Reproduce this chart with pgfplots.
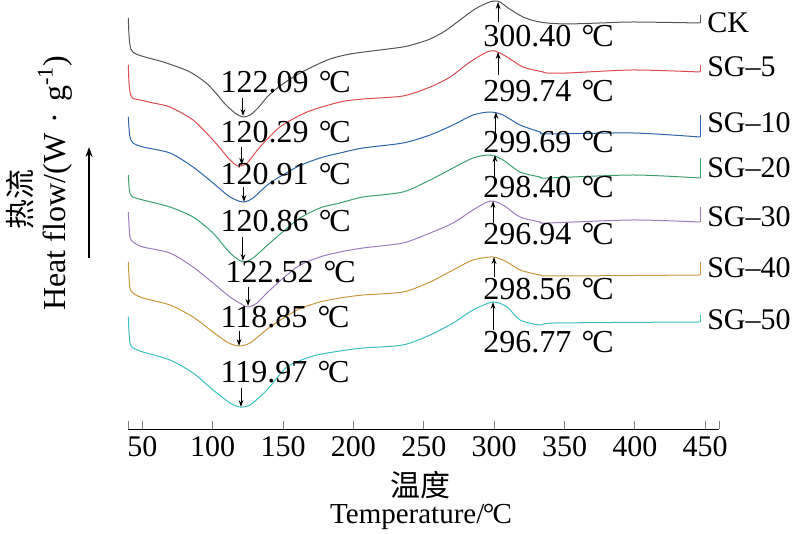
\documentclass[border=0pt]{standalone}
\usepackage{fontspec}
\setmainfont{Liberation Serif}
\newfontfamily\cjk{Noto Sans CJK SC}
\usepackage{pgfplots}
\pgfplotsset{compat=1.18}
\usetikzlibrary{arrows.meta}
\definecolor{cCK}{RGB}{85,85,85}
\definecolor{cA}{RGB}{220,75,80}
\definecolor{cB}{RGB}{45,100,170}
\definecolor{cC}{RGB}{60,160,110}
\definecolor{cD}{RGB}{155,125,190}
\definecolor{cE}{RGB}{200,150,60}
\definecolor{cF}{RGB}{60,190,190}
\newcommand{\dc}{\hspace{0.32em}\textdegree\kern-0.07em C}
\begin{document}
\begin{tikzpicture}[font=\fontsize{15pt}{18pt}\selectfont]
\useasboundingbox (0,0) rectangle (397pt,267pt);
\begin{axis}[
  at={(64.15pt,52.35pt)}, anchor=south west,
  scale only axis, width=295.5pt, height=214.65pt,
  xmin=40, xmax=460, ymin=-429.3, ymax=0,
  axis x line=bottom, axis y line=none,
  axis line style={-, line width=0.75pt, black},
  xtick={50,100,...,450},
  extra x ticks={40,460}, extra x tick labels={},
  tick align=inside, major tick length=4.35pt,
  tick style={gray, line width=0.5pt},
  extra x tick style={tick style={gray, line width=0.5pt}},
  /pgf/number format/assume math mode=true,
  ticklabel style={font=\fontsize{15pt}{18pt}\selectfont},
  clip=false,
  every axis plot/.append style={mark=none, line width=0.5pt, smooth, tension=0.45},
]
% CK
\addplot[cCK] coordinates {
(40.0,-18) (40.4,-33) (41.0,-43) (41.8,-49) (43.3,-52) (45.5,-54) (51.8,-57) (62.5,-61) (73.2,-66) (83.9,-72) (94.5,-82) (101.6,-92) (108.7,-104) (115.8,-113) (121.5,-117) (126.5,-115) (132.2,-108) (139.3,-96) (147.8,-86) (158.5,-76) (169.1,-68) (183.4,-59) (197.6,-54) (218.9,-50) (235.2,-47) (243.8,-44) (254.5,-39) (265.1,-31) (275.7,-20) (286.4,-9) (294.9,-3) (299.9,-1) (304.2,-2) (309.9,-8) (320.5,-17) (329.1,-21) (337.6,-23) (351.8,-24) (375.2,-23) (398.7,-22) (446.3,-23)};
\addplot[cCK, sharp plot] coordinates {(446.3,-23) (446.3,-15)};
% SG-5
\addplot[cA] coordinates {
(40.0,-65) (40.4,-80) (41.0,-90) (41.8,-95.5) (43.3,-98.5) (48.3,-100) (57.6,-103) (69.6,-107) (86.0,-120) (100.2,-140) (112.3,-160) (118.0,-166) (124.4,-163) (133.6,-147) (147.8,-127) (167.0,-112) (190.5,-102) (206.8,-99) (235.2,-96) (254.5,-87) (268.7,-77) (282.8,-62) (294.9,-52) (300.6,-51) (309.2,-57) (320.5,-67) (334.8,-72) (337.6,-73) (351.8,-73) (398.7,-70) (446.3,-72)};
\addplot[cA, sharp plot] coordinates {(446.3,-72) (446.3,-65)};
% SG-10
\addplot[cB] coordinates {
(40.0,-117) (40.5,-128) (41.2,-137) (43.3,-143) (50.4,-147) (69.6,-153) (86.0,-167) (100.2,-183) (112.3,-197) (121.5,-202) (128.6,-198) (140.7,-183) (159.9,-167) (176.2,-158) (190.5,-153) (206.8,-148) (235.2,-143) (254.5,-135) (270.8,-125) (285.0,-115) (297.1,-112) (306.3,-115) (318.4,-125) (332.6,-132) (337.6,-134) (398.7,-133) (446.3,-137)};
\addplot[cB, sharp plot] coordinates {(446.3,-137) (446.3,-115)};
% SG-20
\addplot[cC] coordinates {
(40.0,-175) (40.5,-186) (41.2,-193) (43.3,-197) (50.4,-200) (69.6,-207) (86.0,-217) (100.2,-233) (112.3,-253) (121.5,-262) (128.6,-258) (140.7,-243) (159.9,-220) (176.2,-208) (190.5,-203) (206.8,-197) (235.2,-192) (254.5,-180) (270.8,-168) (285.0,-158) (297.1,-155) (306.3,-160) (318.4,-172) (332.6,-177) (337.6,-178) (398.7,-175) (446.3,-178)};
\addplot[cC, sharp plot] coordinates {(446.3,-178) (446.3,-158)};
% SG-30
\addplot[cD] coordinates {
(40.0,-212) (40.5,-225) (41.2,-237) (43.3,-242) (50.4,-247) (69.6,-253) (86.0,-267) (100.2,-283) (112.3,-297) (121.5,-305) (125.1,-307) (131.5,-303) (140.7,-290) (159.9,-267) (176.2,-257) (190.5,-252) (206.8,-248) (235.2,-243) (254.5,-233) (270.8,-223) (285.0,-210) (297.1,-201) (306.3,-205) (318.4,-217) (332.6,-222) (337.6,-223) (398.7,-220) (446.3,-222)};
\addplot[cD, sharp plot] coordinates {(446.3,-222) (446.3,-207)};
% SG-40
\addplot[cE] coordinates {
(40.0,-262) (40.5,-277) (41.2,-288) (43.3,-293) (50.4,-298) (69.6,-305) (86.0,-317) (100.2,-332) (110.1,-342) (118.0,-346) (126.5,-343) (140.7,-327) (159.9,-310) (176.2,-302) (190.5,-298) (206.8,-295) (235.2,-292) (254.5,-282) (270.8,-270) (285.0,-260) (299.2,-257) (309.2,-262) (318.4,-270) (332.6,-275) (344.7,-276) (446.3,-275)};
\addplot[cE, sharp plot] coordinates {(446.3,-275) (446.3,-262)};
% SG-50
\addplot[cF] coordinates {
(40.0,-317) (40.5,-332) (41.2,-343) (43.3,-348) (50.4,-352) (69.6,-360) (86.0,-373) (100.2,-390) (112.3,-403) (119.4,-407) (126.5,-405) (138.6,-390) (152.8,-367) (171.3,-356) (190.5,-351) (206.8,-348) (235.2,-345) (254.5,-335) (270.8,-323) (285.0,-310) (299.2,-302) (309.2,-307) (318.4,-320) (332.6,-325) (344.7,-323) (446.3,-322)};
\addplot[cF, sharp plot] coordinates {(446.3,-322) (446.3,-315)};
% arrows
\tikzset{ar/.style={-{Stealth[length=3.5pt,width=2.4pt]}, line width=0.5pt, black}}
\draw[ar] (121.5,-98) -- (121.5,-116);
\draw[ar] (120.6,-147) -- (120.6,-165);
\draw[ar] (122.2,-187) -- (122.2,-202);
\draw[ar] (121.5,-237) -- (121.5,-261);
\draw[ar] (125.1,-287) -- (125.1,-306);
\draw[ar] (118.7,-331) -- (118.7,-346);
\draw[ar] (120.1,-388) -- (120.1,-407);
\draw[ar] (302.8,-22) -- (302.8,-2);
\draw[ar] (302.8,-75) -- (302.8,-52);
\draw[ar] (301.3,-135) -- (301.3,-112);
\draw[ar] (300.6,-177) -- (300.6,-155);
\draw[ar] (299.2,-223) -- (299.2,-201);
\draw[ar] (299.9,-277) -- (299.9,-257);
\draw[ar] (299.2,-330) -- (299.2,-302);
% low labels
\tikzset{lb/.style={anchor=base west, inner sep=0pt}, vl/.style={lb, font=\fontsize{16pt}{18pt}\selectfont}}
\node[vl] at (105.3,-93) {122.09\dc};
\node[vl] at (105.3,-143) {120.29\dc};
\node[vl] at (105.3,-185) {120.91\dc};
\node[vl] at (105.3,-232) {120.86\dc};
\node[vl] at (108.8,-283) {122.52\dc};
\node[vl] at (105.3,-328) {118.85\dc};
\node[vl] at (105.3,-383) {119.97\dc};
% high labels
\node[vl] at (292.1,-47) {300.40\dc};
\node[vl] at (292.1,-102) {299.74\dc};
\node[vl] at (292.1,-153) {299.69\dc};
\node[vl] at (292.1,-198) {298.40\dc};
\node[vl] at (292.1,-245) {296.94\dc};
\node[vl] at (292.1,-300) {298.56\dc};
\node[vl] at (292.1,-353) {296.77\dc};
% series names
\node[lb] at (451.2,-33) {CK};
\node[lb] at (451.2,-77) {SG--5};
\node[lb] at (451.2,-133) {SG--10};
\node[lb] at (451.2,-178) {SG--20};
\node[lb] at (451.2,-227) {SG--30};
\node[lb] at (451.2,-278) {SG--40};
\node[lb] at (451.2,-330) {SG--50};
% axis titles
\node[rotate=90] at (-37.0,-200) {\cjk 热流};
\node[rotate=90, font=\fontsize{16pt}{18pt}\selectfont] at (-12.1,-183) {Heat flow/(W\,\,·\,\,g\textsuperscript{-1})};
\draw[-{Stealth[length=5pt,width=3.5pt]}, line width=0.6pt] (12.1,-258) -- (12.1,-147);
\node at (248,-485) {\cjk 温度};
\node[font=\fontsize{14.5pt}{17pt}\selectfont] at (248,-517) {Temperature/\kern-0.05em\textdegree\kern-0.07em C};
\end{axis}
\end{tikzpicture}
\end{document}
